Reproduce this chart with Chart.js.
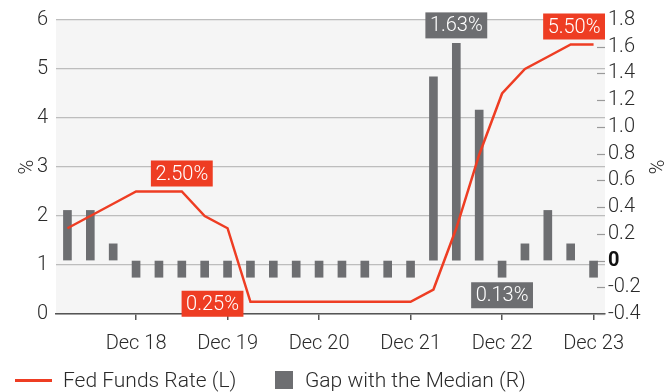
<!DOCTYPE html>
<html>
<head>
<meta charset="utf-8">
<script src="https://cdn.jsdelivr.net/npm/chart.js@4/dist/chart.umd.min.js"></script>
<style>
  body { margin: 0; background: #fff; }
  #wrap { position: relative; width: 672px; height: 392px; font-family: Roboto, "Open Sans", sans-serif; }
  #legend { position: absolute; left: 0; top: 367px; width: 672px; height: 26px; color: #2a2a2a; font-size: 21px; font-weight: 300; }
  #legend span { position: absolute; top: 0; line-height: 26px; white-space: nowrap; }
  .swatch-line { position: absolute; left: 15px; top: 12px; width: 37px; height: 3px; background: #ee3d23; }
  .swatch-box { position: absolute; left: 275px; top: 4px; width: 18px; height: 18px; background: #6d6e71; }
</style>
</head>
<body>
<div id="wrap">
  <canvas id="chart" width="672" height="392"></canvas>
  <div id="legend">
    <div class="swatch-line"></div><span style="left:63px">Fed Funds Rate (L)</span>
    <div class="swatch-box"></div><span style="left:305px">Gap with the Median (R)</span>
  </div>
</div>
<script>
// trimestres
const quarters = [
  "Mar 18", "Jun 18", "Sep 18", "Dec 18",
  "Mar 19", "Jun 19", "Sep 19", "Dec 19",
  "Mar 20", "Jun 20", "Sep 20", "Dec 20",
  "Mar 21", "Jun 21", "Sep 21", "Dec 21",
  "Mar 22", "Jun 22", "Sep 22", "Dec 22",
  "Mar 23", "Jun 23", "Sep 23", "Dec 23"
];

// tasa de fondos federales (eje izquierdo)
const fedFundsRate = [
  1.75, 2.00, 2.25, 2.50,
  2.50, 2.50, 2.00, 1.75,
  0.25, 0.25, 0.25, 0.25,
  0.25, 0.25, 0.25, 0.25,
  0.50, 1.75, 3.25, 4.50,
  5.00, 5.25, 5.50, 5.50
];

// diferencia con la mediana (eje derecho)
const gapWithMedian = [
  0.375, 0.375, 0.125, -0.125,
  -0.125, -0.125, -0.125, -0.125,
  -0.125, -0.125, -0.125, -0.125,
  -0.125, -0.125, -0.125, -0.125,
  1.375, 1.625, 1.125, -0.125,
  0.125, 0.375, 0.125, -0.125
];

// etiquetas destacadas
const callouts = [
  { dataset: 0, index: 5, text: "2.50%", color: "#ee3d23", place: "above" },
  { dataset: 0, index: 8, text: "0.25%", color: "#ee3d23", place: "left" },
  { dataset: 1, index: 17, text: "1.63%", color: "#6d6e71", place: "above" },
  { dataset: 1, index: 19, text: "0.13%", color: "#6d6e71", place: "below" },
  { dataset: 0, index: 23, text: "5.50%", color: "#ee3d23", place: "above" }
];

const FONT = "Roboto, 'Open Sans', sans-serif";
const TXT = "#2a2a2a";

// fondo gris del area de trazado
const plotBg = {
  id: "plotBg",
  beforeDraw(chart) {
    const { ctx, chartArea: a } = chart;
    ctx.save();
    ctx.fillStyle = "#f5f5f5";
    ctx.fillRect(a.left, a.top, a.width, a.height);
    ctx.restore();
  }
};

// marcas cortas del eje derecho, hacia dentro
const rightTicks = {
  id: "rightTicks",
  beforeDatasetsDraw(chart) {
    const { ctx, chartArea: a } = chart;
    const scale = chart.scales.y1;
    ctx.save();
    ctx.strokeStyle = "#9a9a9a";
    ctx.lineWidth = 1.2;
    scale.ticks.forEach(t => {
      const y = Math.round(scale.getPixelForValue(t.value)) + 0.5;
      ctx.beginPath();
      ctx.moveTo(a.right - 8, y);
      ctx.lineTo(a.right, y);
      ctx.stroke();
    });
    ctx.restore();
  }
};

const calloutPlugin = {
  id: "callouts",
  afterDatasetsDraw(chart) {
    const { ctx, chartArea: a } = chart;
    ctx.save();
    ctx.font = "300 20px " + FONT;
    ctx.textBaseline = "middle";
    ctx.textAlign = "center";
    callouts.forEach(c => {
      const el = chart.getDatasetMeta(c.dataset).data[c.index];
      const w = ctx.measureText(c.text).width + 9;
      const h = 26;
      const gap = 5;
      let x, y;
      if (c.place === "above") {
        const top = c.dataset === 1 ? Math.min(el.y, el.base) : el.y;
        x = el.x - w / 2;
        y = top - gap - h;
      } else if (c.place === "below") {
        const bottom = c.dataset === 1 ? Math.max(el.y, el.base) : el.y;
        x = el.x - w / 2;
        y = bottom + gap;
      } else {
        x = el.x - 7 - w;
        y = el.y + 2 - h / 2;
      }
      x = Math.max(a.left, Math.min(x, a.right - w));
      ctx.fillStyle = c.color;
      ctx.fillRect(x, y, w, h);
      ctx.fillStyle = "#fff";
      ctx.fillText(c.text, x + w / 2, y + h / 2 + 1);
    });
    ctx.restore();
  }
};

const ctx = document.getElementById("chart").getContext("2d");
new Chart(ctx, {
  type: "bar",
  data: {
    labels: quarters,
    datasets: [
      {
        type: "line",
        label: "Fed Funds Rate (L)",
        data: fedFundsRate,
        yAxisID: "y",
        borderColor: "#ee3d23",
        borderWidth: 2.5,
        pointRadius: 0,
        tension: 0,
        order: 1
      },
      {
        type: "bar",
        label: "Gap with the Median (R)",
        data: gapWithMedian,
        yAxisID: "y1",
        backgroundColor: "#6d6e71",
        barThickness: 8,
        order: 2
      }
    ]
  },
  options: {
    responsive: false,
    animation: false,
    layout: { padding: { top: 10, left: 12, right: 6, bottom: 24 } },
    plugins: {
      legend: { display: false },
      tooltip: { enabled: false }
    },
    scales: {
      x: {
        grid: {
          offset: false,
          drawOnChartArea: false,
          drawTicks: true,
          tickLength: 6,
          color: "#555",
          lineWidth: 1.5
        },
        border: { display: true, color: "#555", width: 1.5 },
        ticks: {
          autoSkip: false,
          maxRotation: 0,
          padding: 12,
          color: TXT,
          font: { family: FONT, size: 20, weight: 300 },
          callback: function(value, index) {
            const lab = quarters[index];
            return lab.startsWith("Dec") ? lab : null;
          }
        }
      },
      y: {
        position: "left",
        min: 0,
        max: 6,
        afterFit: function(scale) { scale.width = 44; },
        grid: { color: "#bdbdbd", lineWidth: 1.2, drawTicks: false },
        border: { display: false },
        title: {
          display: true,
          text: "%",
          color: TXT,
          padding: { top: 4, bottom: 0 },
          font: { family: FONT, size: 20, weight: 300 }
        },
        ticks: {
          stepSize: 1,
          padding: 8,
          color: TXT,
          font: { family: FONT, size: 20, weight: 300 }
        }
      },
      y1: {
        position: "right",
        min: -0.4,
        max: 1.8,
        afterFit: function(scale) { scale.width = 61; },
        grid: { drawOnChartArea: false, drawTicks: false },
        border: { display: false },
        title: {
          display: true,
          text: "%",
          color: TXT,
          padding: { top: 0, bottom: 0 },
          font: { family: FONT, size: 20, weight: 300 }
        },
        ticks: {
          stepSize: 0.2,
          autoSkip: false,
          padding: 3,
          color: function(c) { return Math.abs(c.tick.value) < 1e-9 ? "#111" : TXT; },
          font: function(c) {
            const zero = c.tick && Math.abs(c.tick.value) < 1e-9;
            return { family: FONT, size: 20, weight: zero ? "bold" : 300 };
          },
          callback: function(value) {
            if (Math.abs(value) < 1e-9) return "0";
            return Number(value).toFixed(1);
          }
        }
      }
    }
  },
  plugins: [plotBg, rightTicks, calloutPlugin]
});
</script>
</body>
</html>
